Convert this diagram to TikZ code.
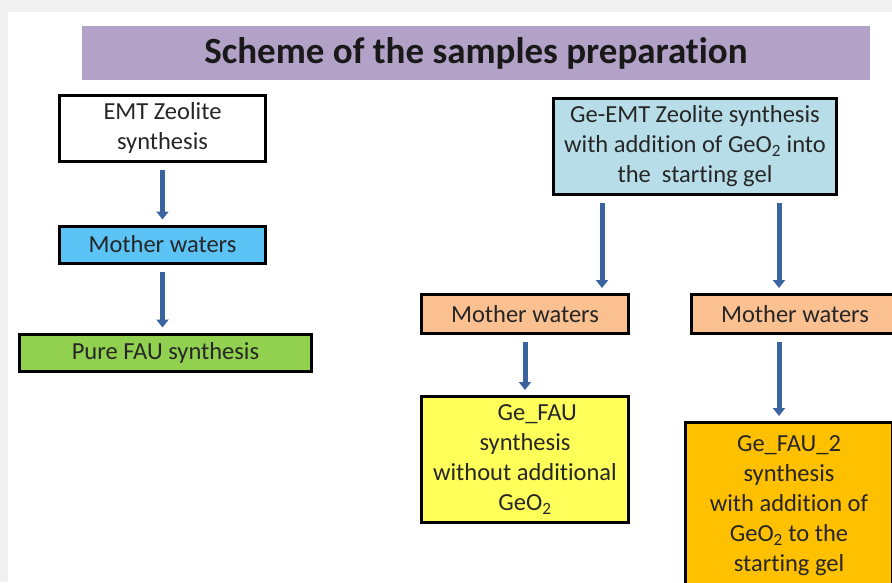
\documentclass[tikz,border=0pt]{standalone}
\usepackage{fontspec}
\setmainfont{Carlito}[Ligatures=NoCommon]
\usepackage{xcolor}
\usepackage{tikz}
\usetikzlibrary{arrows.meta, positioning}

\definecolor{titlebar}{HTML}{B3A2C7}
\definecolor{skyblue}{HTML}{5BC3F5}
\definecolor{leafgreen}{HTML}{92D050}
\definecolor{paleblue}{HTML}{B7DEE8}
\definecolor{peach}{HTML}{FAC090}
\definecolor{lemon}{HTML}{FFFF5A}
\definecolor{amber}{HTML}{FFC000}
\definecolor{arrowblue}{HTML}{3A64A0}

\begin{document}
\begin{tikzpicture}[
        x=1pt, y=1pt,
        box/.style={rectangle, draw=black, line width=3pt, align=center, inner sep=0pt, text=black!85, font=\fontsize{24.5}{30}\selectfont},
        plain/.style={box, fill=white},
        mwblue/.style={box, fill=skyblue},
        mwpeach/.style={box, fill=peach},
        arr/.style={-{Triangle[width=12pt, length=8pt]}, line width=5pt, arrowblue, shorten <=7pt, shorten >=5pt},
    ]
        % page
        \useasboundingbox (0,0) rectangle (892,-582);
        \fill[gray!12] (0,0) rectangle (892,-582);
        \fill[white] (8,-12) rectangle (892,-582);

        % Title
        \node[fill=titlebar, minimum width=788pt, minimum height=54pt, inner sep=0pt, font=\fontsize{37}{42}\selectfont\bfseries, text=black!90] (title) at (476,-53) {Scheme of the samples preparation};

        % Left column
        \node[plain, minimum width=206pt, minimum height=66pt] (emt) at (162.5,-128) {EMT Zeolite\\synthesis};
        \node[mwblue, minimum width=206pt, minimum height=37pt, below=62pt of emt] (mw) {Mother waters};
        \node[box, fill=leafgreen, minimum width=292pt, minimum height=37pt, below=68pt of mw, xshift=3pt] (pure) {Pure FAU synthesis};

        % Right columns
        \node[box, fill=paleblue, minimum width=283pt, minimum height=96pt] (geemt) at (695,-146.5) {Ge-EMT Zeolite synthesis\\with addition of GeO\textsubscript{2} into\\the\ \ starting gel};
        \node[mwpeach, minimum width=207pt, minimum height=39pt] (mwa) at (525,-314) {Mother waters};
        \node[mwpeach, minimum width=207pt, minimum height=39pt] (mwb) at (795,-314) {Mother waters};
        \node[box, fill=lemon, minimum width=207pt, minimum height=126pt, below=60pt of mwa] (gefau) {\hspace*{1em}Ge\_FAU\\synthesis\\without additional\\GeO\textsubscript{2}};
        \node[box, fill=amber, minimum width=207pt, minimum height=166pt] (gefautwo) at (789,-505.5) {Ge\_FAU\_2\\synthesis\\with addition of\\GeO\textsubscript{2} to the\\starting gel};

        % Arrows
        \draw[arr] (emt) -- (mw);
        \draw[arr] (mw) -- (mw |- pure.north);
        \draw[arr] ([xshift=-93pt]geemt.south) -- ([xshift=77pt]mwa.north);
        \draw[arr] ([xshift=84pt]geemt.south) -- ([xshift=-16pt]mwb.north);
        \draw[arr] (mwa) -- (gefau);
        \draw[arr] ([xshift=-16pt]mwb.south) -- ([xshift=-16pt]mwb.south |- gefautwo.north);
    \end{tikzpicture}
\end{document}
